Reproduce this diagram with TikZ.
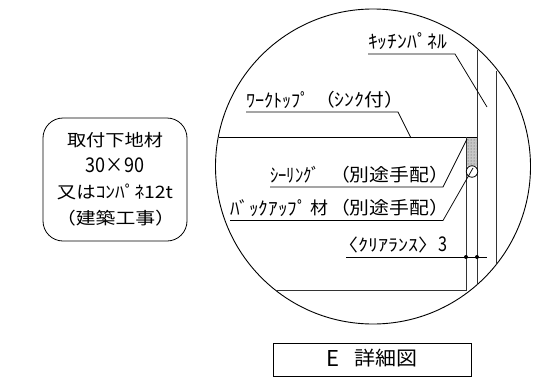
\documentclass[tikz,border=0pt]{standalone}
\usepackage{graphicx}
\usepackage{fontspec}
\setmainfont{Noto Sans CJK JP}
\usetikzlibrary{patterns}
\newcommand{\fit}[3]{\resizebox*{#1pt}{#2pt}{#3}}
\tikzset{
  lbl/.style={inner sep=0pt,outer sep=0pt,anchor=center,text=black},
  thick line/.style={line width=0.9pt,draw=black},
  leader/.style={line width=0.75pt,draw=black},
  wall/.style={line width=1pt,draw=black!80},
  frame/.style={line width=0.9pt,draw=black},
  joint/.style={circle,fill=black,inner sep=0pt,minimum size=4pt}
}
\begin{document}
\begin{tikzpicture}[x=1pt,y=-1pt]
\useasboundingbox (0,0) rectangle (541,383);
% detail circle
\coordinate (cc) at (373,166.5);
\draw[thick line] (cc) circle (157.5);
% sealant
\fill[black!22] (466,137.5) rectangle (477,166);
\fill[pattern=dots,pattern color=black!70] (466,137.5) rectangle (477,166);
% parts
\coordinate (pa) at (477,49.5);
\coordinate (pb) at (477,284.5);
\coordinate (qa) at (496,71);
\coordinate (qb) at (496,264.5);
\draw[wall] (pa) -- (pb);
\draw[wall] (qa) -- (qb);
\coordinate (ta) at (219,137);
\coordinate (tb) at (477,137);
\draw[thick line] (ta) -- (tb);
\coordinate (wa) at (466,137);
\coordinate (wb) at (466,290);
\coordinate (wc) at (275,290);
\draw[wall] (wa) -- (wb) -- (wc);
\node[circle,draw=black,line width=0.8pt,fill=white,minimum size=11.5pt,inner sep=0pt] (rod) at (472,171.5) {};
% labels
\node[lbl] (kp) at (407.5,41.5) {\fit{79}{17}{ｷｯﾁﾝﾊﾟﾈﾙ}};
\node[lbl] (wt) at (278,100) {\fit{64}{17}{ﾜｰｸﾄｯﾌﾟ}};
\node[lbl] (wu) at (359.5,100) {\fit{89}{17}{（ｼﾝｸ付）}};
\node[lbl] (sl) at (295,175) {\fit{50}{17}{ｼｰﾘﾝｸﾞ}};
\node[lbl] (sm) at (389.5,175) {\fit{119}{17}{（別途手配）}};
\node[lbl] (bu) at (268.5,208) {\fit{77}{17}{ﾊﾞｯｸｱｯﾌﾟ}};
\node[lbl] (bv) at (319,208) {\fit{18}{16}{材}};
\node[lbl] (bm) at (389.5,208) {\fit{119}{17}{（別途手配）}};
\node[lbl] (cl) at (388,244.5) {\fit{100}{16}{〈ｸﾘｱﾗﾝｽ〉}};
\node[lbl] (cn) at (442.5,244.5) {\fit{9}{15}{3}};
% leaders
\coordinate (k0) at (368,54);\coordinate (k1) at (455,54);\coordinate (k2) at (487,107);
\draw[leader] (k0) -- (k1) -- (k2);
\coordinate (w0) at (246,112);\coordinate (w1) at (398,112);\coordinate (w2) at (411,138);
\draw[leader] (w0) -- (w1) -- (w2);
\coordinate (s0) at (270,187);\coordinate (s1) at (443,187);\coordinate (s2) at (467,139);
\draw[leader] (s0) -- (s1) -- (s2);
\coordinate (b0) at (230,220.5);\coordinate (b1) at (443,220.5);\coordinate (b2) at (473,168);
\draw[leader] (b0) -- (b1) -- (b2);
\coordinate (c0) at (346,257);\coordinate (c1) at (487,257);
\draw[leader] (c0) -- (c1);
\node[joint] (d1) at (466,257) {};
\node[joint] (d2) at (477,257) {};
% left box
\node[draw=black,line width=0.8pt,rounded corners=20pt,minimum width=144pt,minimum height=123pt,inner sep=0pt] (bx) at (115,179.5) {};
\node[lbl] (l1) at (115,140.5) {\fit{96}{15.5}{取付下地材}};
\node[lbl] (l2) at (115,165.5) {\fit{58}{15}{30×90}};
\node[lbl] (l3) at (115,192) {\fit{116}{16}{又はｺﾝﾊﾟﾈ12t}};
\node[lbl] (l4) at (115.5,218.5) {\fit{119}{16}{（建築工事）}};
% title
\node[draw=black,line width=0.8pt,minimum width=198pt,minimum height=33pt,inner sep=0pt] (tt) at (372,360) {};
\node[lbl] (te) at (332.5,358.5) {\fit{13}{16}{E}};
\node[lbl] (tx) at (385.5,358.5) {\fit{63}{18}{詳細図}};
\end{tikzpicture}
\end{document}
